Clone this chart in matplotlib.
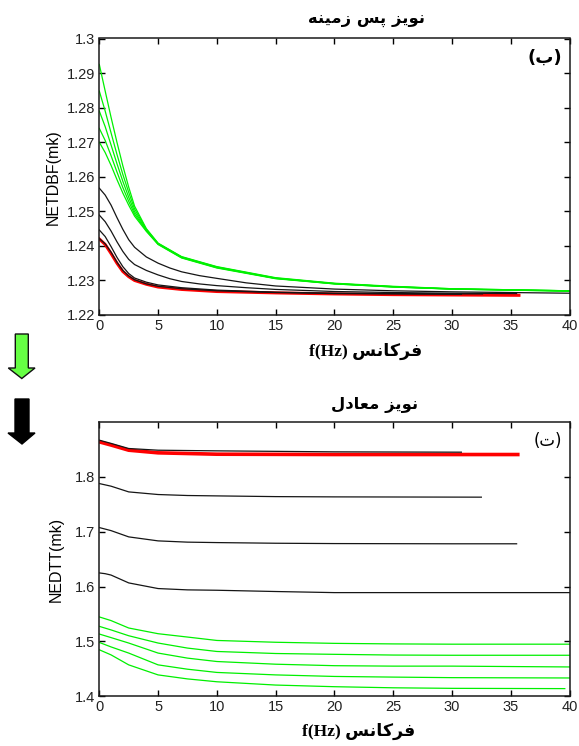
import matplotlib
matplotlib.use("Agg")
import matplotlib.pyplot as plt
from matplotlib.patches import Polygon

# ---------------- data: top panel (NETDBF) ----------------
f_top_green = [0, 0.5, 1, 1.5, 2, 2.5, 3, 4, 5, 7, 10, 15, 20, 25, 30, 40]
top_green = [
    [1.2925, 1.2848, 1.2772, 1.2700, 1.2632, 1.2570, 1.2515, 1.2450, 1.2408, 1.2369, 1.2340, 1.2308, 1.2292, 1.2283, 1.2276, 1.2270],
    [1.2848, 1.2790, 1.2727, 1.2665, 1.2607, 1.2555, 1.2507, 1.2448, 1.2407, 1.2368, 1.2339, 1.2307, 1.2291, 1.2282, 1.2276, 1.2270],
    [1.2790, 1.2745, 1.2692, 1.2638, 1.2587, 1.2541, 1.2499, 1.2446, 1.2406, 1.2367, 1.2338, 1.2306, 1.2291, 1.2282, 1.2275, 1.2270],
    [1.2740, 1.2705, 1.2661, 1.2614, 1.2569, 1.2529, 1.2492, 1.2444, 1.2405, 1.2366, 1.2337, 1.2306, 1.2290, 1.2281, 1.2275, 1.2269],
    [1.2700, 1.2670, 1.2633, 1.2592, 1.2553, 1.2518, 1.2486, 1.2442, 1.2404, 1.2365, 1.2336, 1.2305, 1.2290, 1.2281, 1.2275, 1.2269],
]
f_top_black = [
    [0, 0.5, 1, 1.5, 2, 2.5, 3, 4, 5, 6, 7, 8.5, 10, 12.5, 15, 20, 25, 30, 40],
    [0, 0.5, 1, 1.5, 2, 2.5, 3, 4, 5, 6, 7, 8.5, 10, 12.5, 15, 20, 25, 30, 35.5],
    [0, 0.5, 1, 1.5, 2, 2.5, 3, 4, 5, 7, 10, 15, 20, 25, 30, 32.6],
    [0, 0.5, 1, 1.5, 2, 2.5, 3, 4, 5, 7, 10, 15, 20, 25, 30.8],
]
top_black = [
    [1.2567, 1.2547, 1.2518, 1.2482, 1.2448, 1.2418, 1.2396, 1.2368, 1.2350, 1.2336, 1.2325, 1.2314, 1.2306, 1.2293, 1.2284, 1.2275, 1.2270, 1.2267, 1.2263],
    [1.2489, 1.2470, 1.2443, 1.2412, 1.2384, 1.2361, 1.2346, 1.2329, 1.2316, 1.2305, 1.2297, 1.2290, 1.2285, 1.2279, 1.2274, 1.2268, 1.2265, 1.2263, 1.2262],
    [1.2446, 1.2427, 1.2398, 1.2367, 1.2340, 1.2320, 1.2307, 1.2295, 1.2287, 1.2279, 1.2272, 1.2266, 1.2263, 1.2262, 1.2261, 1.2261],
    [1.2421, 1.2406, 1.2382, 1.2353, 1.2329, 1.2313, 1.2302, 1.2290, 1.2283, 1.2276, 1.2270, 1.2265, 1.2262, 1.2261, 1.2260],
]
f_top_red = [0, 0.5, 1, 1.5, 2, 2.5, 3, 4, 5, 7, 10, 15, 20, 25, 30, 35.7]
top_red = [1.2420, 1.2404, 1.2378, 1.2350, 1.2326, 1.2311, 1.2300, 1.2289, 1.2281, 1.2274, 1.2268, 1.2264, 1.2261, 1.2259, 1.2258, 1.2257]

# ---------------- data: bottom panel (NEDTT) ----------------
f_bot_green = [
    [0, 1, 2.5, 5, 7.5, 10, 15, 20, 25, 30, 40],
    [0, 1, 2.5, 5, 7.5, 10, 15, 20, 25, 30, 40],
    [0, 1, 2.5, 5, 7.5, 10, 15, 20, 25, 30, 40],
    [0, 1, 2.5, 5, 7.5, 10, 15, 20, 25, 30, 40],
    [0, 1, 2.5, 5, 7.5, 10, 15, 20, 25, 30, 39.6],
]
bot_green = [
    [1.5447, 1.5380, 1.5245, 1.5141, 1.5080, 1.5018, 1.4985, 1.4965, 1.4955, 1.4950, 1.4950],
    [1.5275, 1.5210, 1.5104, 1.4971, 1.4879, 1.4817, 1.4780, 1.4765, 1.4752, 1.4748, 1.4748],
    [1.5135, 1.5070, 1.4971, 1.4788, 1.4696, 1.4634, 1.4585, 1.4558, 1.4550, 1.4550, 1.4535],
    [1.4982, 1.4900, 1.4788, 1.4573, 1.4494, 1.4435, 1.4390, 1.4362, 1.4350, 1.4340, 1.4334],
    [1.4848, 1.4755, 1.4573, 1.4390, 1.4317, 1.4265, 1.4205, 1.4175, 1.4155, 1.4145, 1.4140],
]
f_bot_black = [
    [0, 0.5, 1, 2.5, 5, 7.5, 10, 15, 20, 30, 40],
    [0, 1, 2.5, 5, 7.5, 10, 15, 20, 30, 35.5],
    [0, 1, 2.5, 5, 7.5, 10, 15, 20, 32.5],
    [0, 1, 2.5, 5, 10, 20, 30.8],
]
bot_black = [
    [1.6249, 1.6235, 1.6210, 1.6067, 1.5964, 1.5940, 1.5933, 1.5910, 1.5890, 1.5890, 1.5890],
    [1.7076, 1.7020, 1.6906, 1.6833, 1.6810, 1.6802, 1.6790, 1.6784, 1.6780, 1.6780],
    [1.7878, 1.7830, 1.7726, 1.7678, 1.7660, 1.7653, 1.7640, 1.7635, 1.7630],
    [1.8669, 1.8610, 1.8517, 1.8486, 1.8474, 1.8456, 1.8450],
]
f_bot_red = [0, 1, 2.5, 5, 10, 20, 35.6]
bot_red = [1.8638, 1.8580, 1.8486, 1.8438, 1.8413, 1.8407, 1.8407]

x_ticks = [0, 5, 10, 15, 20, 25, 30, 35, 40]
top_yticks = [1.22, 1.23, 1.24, 1.25, 1.26, 1.27, 1.28, 1.29, 1.30]
top_yticklabels = ['1.22', '1.23', '1.24', '1.25', '1.26', '1.27', '1.28', '1.29', '1.3']
bot_yticks = [1.4, 1.5, 1.6, 1.7, 1.8]
bot_yticklabels = ['1.4', '1.5', '1.6', '1.7', '1.8']


def vis(s):
    """Visual (left-to-right) order of a string of Arabic presentation forms."""
    return ''.join(reversed(s))


# Persian texts written with contextual presentation forms
TITLE_TOP = vis('\uFEE7\uFEEE\uFEF3\uFEB0 \uFB58\uFEB2 \uFEAF\uFEE3\uFEF4\uFEE8\uFEEA')   # نویز پس زمینه
TITLE_BOT = vis('\uFEE7\uFEEE\uFEF3\uFEB0 \uFEE3\uFECC\uFE8E\uFEA9\uFEDD')              # نویز معادل
FREQ = vis('\uFED3\uFEAE\uFB90\uFE8E\uFEE7\uFEB2')                                       # فرکانس
LABEL_TOP = '(\uFE8F)'   # (ب)
LABEL_BOT = '(\uFE95)'   # (ت)

W, H = 579, 746
fig = plt.figure(figsize=(W / 100, H / 100), dpi=100)

tick_font = {'family': 'Liberation Sans', 'size': 10.5}
GREEN = '#00f000'
BLACK = '#151515'
RED = '#ff0000'


def style(ax, ylim, yticks, yticklabels):
    ax.set_xlim(0, 40)
    ax.set_ylim(*ylim)
    ax.set_xticks(x_ticks)
    ax.set_xticklabels([str(v) for v in x_ticks], fontdict=tick_font, color='#222222')
    ax.set_yticks(yticks)
    ax.set_yticklabels(yticklabels, fontdict=tick_font, color='#222222')
    ax.tick_params(direction='in', length=4.5, width=1, top=True, right=True, pad=3)
    for sp in ax.spines.values():
        sp.set_linewidth(1.1)
        sp.set_color('#1a1a1a')


# ---- top panel ----
ax1 = fig.add_axes([99.3 / W, 1 - 315 / H, (569.5 - 99.3) / W, (315 - 38.5) / H])
for ys in top_green:
    ax1.plot(f_top_green, ys, color=GREEN, lw=0.9)
ax1.plot(f_top_red, top_red, color=RED, lw=2.2)
for fs, ys in zip(f_top_black, top_black):
    ax1.plot(fs, ys, color=BLACK, lw=0.9)
style(ax1, (1.22, 1.30), top_yticks, top_yticklabels)
ax1.set_ylabel('NETDBF(mk)', family='Liberation Sans', fontsize=11.5, labelpad=4)
ax1.text(0.985, 0.93, LABEL_TOP, transform=ax1.transAxes, ha='right', va='center',
         family='DejaVu Sans', fontweight='bold', fontsize=13)

# ---- bottom panel ----
ax2 = fig.add_axes([99.3 / W, 1 - 696.3 / H, (569.5 - 99.3) / W, (696.3 - 422) / H])
for fs, ys in zip(f_bot_green, bot_green):
    ax2.plot(fs, ys, color=GREEN, lw=0.9)
ax2.plot(f_bot_red, bot_red, color=RED, lw=2.6)
for fs, ys in zip(f_bot_black, bot_black):
    ax2.plot(fs, ys, color=BLACK, lw=0.9)
style(ax2, (1.4, 1.9), bot_yticks, bot_yticklabels)
ax2.set_ylabel('NEDTT(mk)', family='Liberation Sans', fontsize=11.5, labelpad=8)
ax2.text(0.985, 0.93, LABEL_BOT, transform=ax2.transAxes, ha='right', va='center',
         family='DejaVu Sans', fontsize=12)

# ---- titles and x labels (figure pixel placement) ----
def ftext(x, y, s, **kw):
    fig.text(x / W, 1 - y / H, s, ha='center', va='center', **kw)

ftext(366, 21, TITLE_TOP, family='DejaVu Sans', fontweight='bold', fontsize=11.8)
ftext(375, 405, TITLE_BOT, family='DejaVu Sans', fontweight='bold', fontsize=11.8)
xl = 'f(Hz) ' + FREQ
ftext(366, 351, xl, family=['Liberation Serif', 'DejaVu Sans'], fontweight='bold', fontsize=12.5)
ftext(359, 731, xl, family=['Liberation Serif', 'DejaVu Sans'], fontweight='bold', fontsize=12.5)

# ---- arrows ----
ov = fig.add_axes([0, 0, 1, 1], zorder=-1)
ov.set_xlim(0, W)
ov.set_ylim(H, 0)
ov.axis('off')
green_arrow = [(15.3, 334), (28.3, 334), (28.3, 368), (35, 368), (21.8, 378.5), (8.3, 368), (15.3, 368)]
black_arrow = [(15, 399), (29, 399), (29, 433), (35, 433), (22, 444), (8, 433), (15, 433)]
ov.add_patch(Polygon(green_arrow, closed=True, facecolor='#66ff44', edgecolor='#111111', lw=1))
ov.add_patch(Polygon(black_arrow, closed=True, facecolor='#000000', edgecolor='#000000', lw=1))

fig.savefig('out.png', dpi=100)
